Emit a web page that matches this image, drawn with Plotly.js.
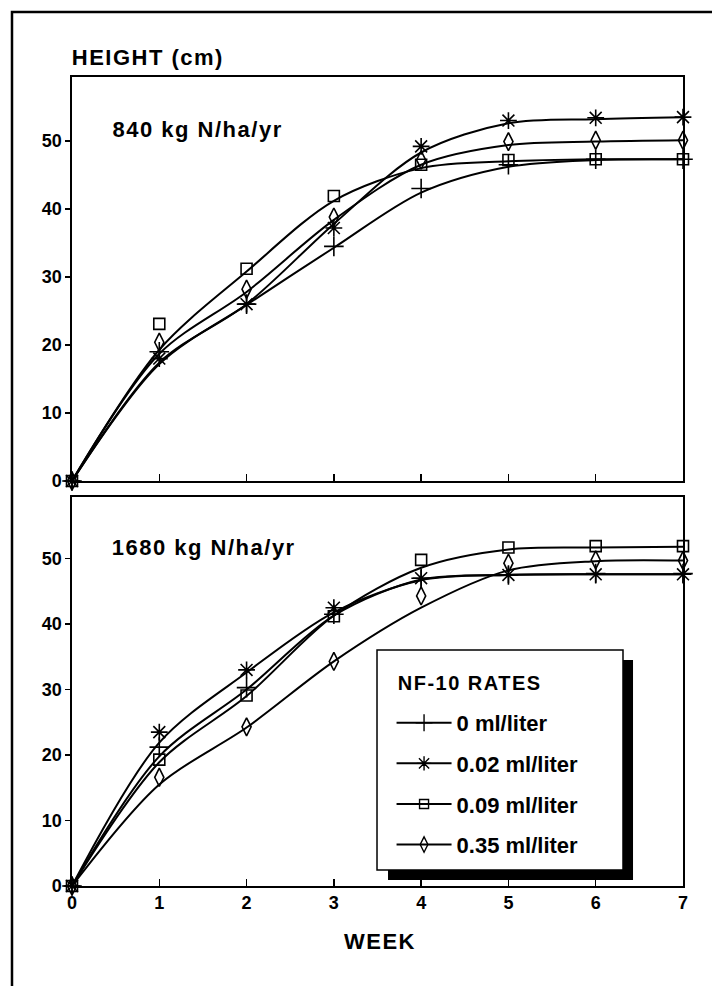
<!DOCTYPE html>
<html><head><meta charset="utf-8">
<script src="https://cdn.plot.ly/plotly-3.0.1.min.js"></script>
<style>
html,body{margin:0;padding:0;background:#fff;}
#chart{width:712px;height:986px;}
#chart .annotation-text{letter-spacing:1.5px;}
</style>
</head><body><div id="chart"></div>
<script>
// ---- data ----
const weeks = [0, 1, 2, 3, 4, 5, 6, 7];
const seriesNames = ['0 ml/liter', '0.02 ml/liter', '0.09 ml/liter', '0.35 ml/liter'];
const yTicks = [0, 10, 20, 30, 40, 50];

// 840 kg N/ha/yr : observed points
const obs840_0   = [0, 19.0, 26.0, 34.5, 43.0, 46.5, 47.3, 47.3];
const obs840_002 = [0, 18.0, 26.0, 37.2, 49.2, 53.0, 53.4, 53.5];
const obs840_009 = [0, 23.1, 31.2, 41.9, 46.5, 47.2, 47.3, 47.3];
const obs840_035 = [0, 20.4, 28.2, 38.8, 47.2, 49.9, 50.1, 50.1];
// 840 kg N/ha/yr : fitted curves
const fit840_0   = [0, 17.2, 25.9, 34.3, 42.4, 46.2, 47.2, 47.3];
const fit840_002 = [0, 17.4, 26.0, 37.8, 48.3, 52.6, 53.2, 53.5];
const fit840_009 = [0, 19.3, 30.8, 41.2, 46.0, 47.0, 47.3, 47.3];
const fit840_035 = [0, 18.7, 27.8, 38.4, 46.5, 49.4, 49.9, 50.1];

// 1680 kg N/ha/yr : observed points
const obs1680_0   = [0, 21.2, 30.3, 41.5, 47.0, 47.5, 47.7, 47.7];
const obs1680_002 = [0, 23.5, 33.0, 42.5, 47.0, 47.5, 47.6, 47.6];
const obs1680_009 = [0, 19.3, 29.1, 41.2, 49.8, 51.7, 51.9, 51.9];
const obs1680_035 = [0, 16.6, 24.3, 34.3, 44.3, 49.3, 49.8, 49.7];
// 1680 kg N/ha/yr : fitted curves
const fit1680_0   = [0, 19.8, 30.0, 41.3, 46.8, 47.5, 47.6, 47.6];
const fit1680_002 = [0, 21.9, 32.6, 41.8, 46.7, 47.5, 47.6, 47.6];
const fit1680_009 = [0, 18.9, 29.0, 41.3, 48.6, 51.4, 51.7, 51.8];
const fit1680_035 = [0, 15.5, 24.2, 34.3, 42.5, 48.2, 49.6, 49.7];

// ---- styling ----
const symbols = ['cross-thin-open', 'asterisk-open', 'square-open', 'diamond-tall-open'];
const sizes = [14, 14, 11, 13];
const FONT = 'Liberation Sans, Arial, Helvetica, sans-serif';

const obs840 = [obs840_0, obs840_002, obs840_009, obs840_035];
const fit840 = [fit840_0, fit840_002, fit840_009, fit840_035];
const obs1680 = [obs1680_0, obs1680_002, obs1680_009, obs1680_035];
const fit1680 = [fit1680_0, fit1680_002, fit1680_009, fit1680_035];

const traces = [];
function addPanel(obs, fit, xa, ya) {
  for (let i = 0; i < 4; i++) {
    traces.push({x: weeks, y: fit[i], xaxis: xa, yaxis: ya, mode: 'lines', showlegend: false,
      line: {color: '#000', width: 2, shape: 'spline', smoothing: 0.9}, hoverinfo: 'skip', cliponaxis: false});
    traces.push({x: weeks, y: obs[i], xaxis: xa, yaxis: ya, mode: 'markers', showlegend: false,
      marker: {symbol: symbols[i], size: sizes[i], color: '#000', line: {color: '#000', width: 1.6}}, cliponaxis: false});
  }
}
addPanel(obs840, fit840, 'x', 'y');
addPanel(obs1680, fit1680, 'x2', 'y2');
// legend entries
for (let i = 0; i < 4; i++) {
  traces.push({x: [null], y: [null], xaxis: 'x2', yaxis: 'y2', mode: 'lines+markers', name: seriesNames[i],
    legendgroup: 'g' + i, showlegend: true,
    line: {color: '#000', width: 2},
    marker: {symbol: symbols[i], size: sizes[i] - 2, color: '#000', line: {color: '#000', width: 1.4}}});
}

const xax = {range: [0, 7], tickmode: 'array', tickvals: weeks, ticks: 'inside', ticklen: 7, tickwidth: 1.5,
  tickcolor: '#000', showline: true, mirror: true, linecolor: '#000', linewidth: 1.6, showgrid: false, zeroline: false,
  tickfont: {family: FONT, size: 18, color: '#000', weight: 'bold'}};
const yax = {range: [0, 59.4], tickmode: 'array', tickvals: yTicks, ticks: 'outside', ticklen: 5, tickwidth: 1.5,
  tickcolor: '#000', showline: true, mirror: true, linecolor: '#000', linewidth: 1.6, showgrid: false, zeroline: false,
  tickfont: {family: FONT, size: 18, color: '#000', weight: 'bold'}};

const layout = {
  width: 712, height: 986,
  margin: {l: 72, r: 29, t: 77, b: 100},
  paper_bgcolor: '#fff', plot_bgcolor: '#fff',
  showlegend: true,
  xaxis: Object.assign({}, xax, {domain: [0, 1], anchor: 'y', showticklabels: false}),
  yaxis: Object.assign({}, yax, {domain: [0.5006, 1], anchor: 'x'}),
  xaxis2: Object.assign({}, xax, {domain: [0, 1], anchor: 'y2'}),
  yaxis2: Object.assign({}, yax, {domain: [0, 0.4808], anchor: 'x2'}),
  legend: {x: 0.523, y: 0.2275, xanchor: 'left', yanchor: 'top', bgcolor: 'rgba(0,0,0,0)', borderwidth: 0,
    font: {family: FONT, size: 22, color: '#000', weight: 'bold'}, traceorder: 'grouped', tracegroupgap: 9,
    itemwidth: 55},
  shapes: [
    {type: 'rect', xref: 'paper', yref: 'paper', x0: -0.0982, x1: 1.2, y0: 1.0804, y1: -0.3,
      line: {color: '#000', width: 2.5}, fillcolor: 'rgba(0,0,0,0)', layer: 'above'},
    {type: 'rect', xref: 'paper', yref: 'paper', x0: 0.5172, x1: 0.9182, y0: 0.2794, y1: 0.0074,
      line: {color: '#000', width: 0}, fillcolor: '#000', layer: 'above'},
    {type: 'rect', xref: 'paper', yref: 'paper', x0: 0.4992, x1: 0.9018, y0: 0.2917, y1: 0.0198,
      line: {color: '#000', width: 1.5}, fillcolor: '#fff', layer: 'above'}
  ],
  annotations: [
    {text: 'HEIGHT (cm)', xref: 'paper', yref: 'paper', x: 0.010, y: 1.0235, xanchor: 'left', yanchor: 'middle',
      showarrow: false, font: {family: FONT, size: 22, color: '#000', weight: 'bold'}},
    {text: '840 kg N/ha/yr', xref: 'paper', yref: 'paper', x: 0.080, y: 0.9345, xanchor: 'left', yanchor: 'middle',
      showarrow: false, font: {family: FONT, size: 22, color: '#000', weight: 'bold'}},
    {text: '1680 kg N/ha/yr', xref: 'paper', yref: 'paper', x: 0.080, y: 0.4178, xanchor: 'left', yanchor: 'middle',
      showarrow: false, font: {family: FONT, size: 22, color: '#000', weight: 'bold'}},
    {text: 'WEEK', xref: 'paper', yref: 'paper', x: 0.504, y: -0.068, xanchor: 'center', yanchor: 'middle',
      showarrow: false, font: {family: FONT, size: 22, color: '#000', weight: 'bold'}},
    {text: 'NF-10 RATES', xref: 'paper', yref: 'paper', x: 0.543, y: 0.2509, xanchor: 'left', yanchor: 'middle',
      showarrow: false, font: {family: FONT, size: 20, color: '#000', weight: 'bold'}}
  ]
};
Plotly.newPlot('chart', traces, layout, {displayModeBar: false, staticPlot: true});
</script></body></html>
